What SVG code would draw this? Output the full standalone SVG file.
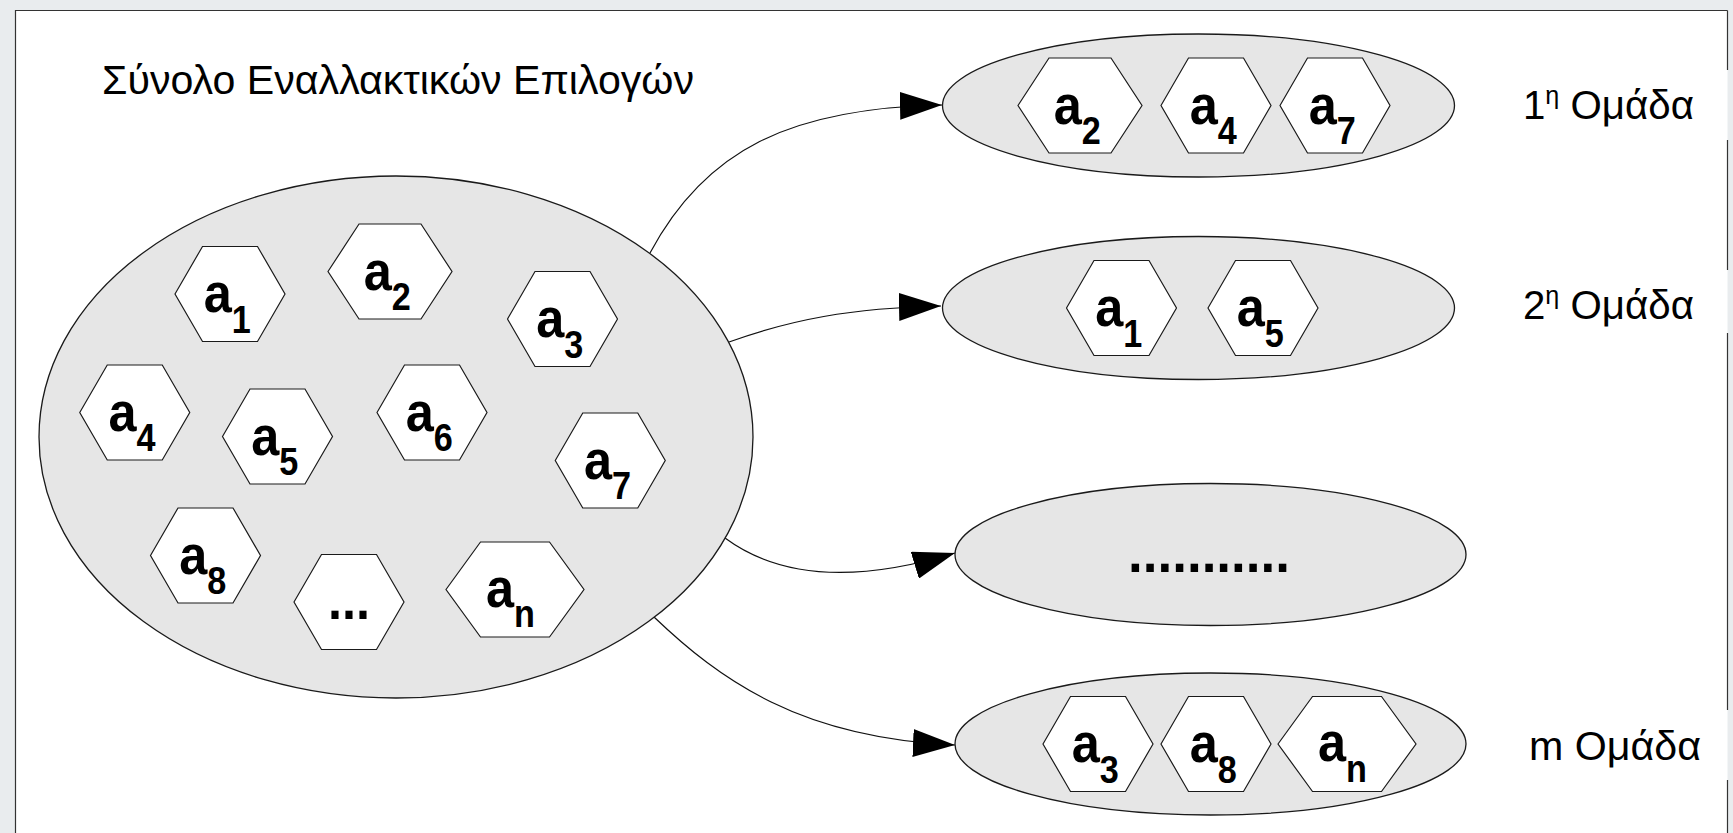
<svg xmlns="http://www.w3.org/2000/svg" xmlns:xlink="http://www.w3.org/1999/xlink" width="1733" height="833" viewBox="0 0 1733 833">
  <style>
    .set { fill: #e6e6e6; stroke: #1a1a1a; stroke-width: 1.3; }
    .hex { fill: #ffffff; stroke: #1a1a1a; stroke-width: 1.2; }
    .lbl { font-family: "Liberation Sans", Arial, sans-serif; font-weight: bold; font-size: 56px; fill: #000; text-anchor: middle; }
    .sub { font-size: 38px; }
    .cap { font-family: "Liberation Sans", Arial, sans-serif; font-size: 40px; fill: #000; }
    .sup { font-size: 25px; }
    .edge { fill: none; stroke: #111; stroke-width: 1.2; }
  </style>
  <defs>
    <!-- flat-topped hexagons: standard, wide and extra wide -->
    <polygon id="hx" points="-55,0 -27.5,-47.5 27.5,-47.5 55,0 27.5,47.5 -27.5,47.5"/>
    <polygon id="hxw" points="-62,0 -31,-47.5 31,-47.5 62,0 31,47.5 -31,47.5"/>
    <polygon id="hxn" points="-69,0 -34.5,-47.5 34.5,-47.5 69,0 34.5,47.5 -34.5,47.5"/>
    <marker id="arrow" viewBox="0 0 42 28" refX="42" refY="14" markerWidth="42" markerHeight="28" markerUnits="userSpaceOnUse" orient="auto">
      <path d="M0,0 L42,14 L0,28 Z" fill="#000"/>
    </marker>
  </defs>

  <!-- page background and frame -->
  <rect x="0" y="0" width="1733" height="833" fill="#e9ecee"/>
  <rect x="15.5" y="10.5" width="1712" height="830" fill="#ffffff"/>
  <g stroke="#333" stroke-width="1.2" fill="none">
    <path d="M15.5,833 V10.5 H1727.5"/>
    <path d="M1727.5,10.5 V70 M1727.5,140 V270 M1727.5,333 V710 M1727.5,780 V833"/>
  </g>

  <!-- connectors -->
  <g id="connectors">
    <path class="edge" d="M650,253 C705,150 790,108 942,105" marker-end="url(#arrow)"/>
    <path class="edge" d="M729,342 C790,320 850,308 941,306" marker-end="url(#arrow)"/>
    <path class="edge" d="M725,538 C775,575 850,585 955,553" marker-end="url(#arrow)"/>
    <path class="edge" d="M654,617 C720,680 800,738 955,745" marker-end="url(#arrow)"/>
  </g>

  <!-- title -->
  <g id="title">
    <text class="cap" x="102" y="94" font-size="39" textLength="592" lengthAdjust="spacingAndGlyphs">Σύνολο Εναλλακτικών Επιλογών</text>
  </g>

  <!-- full set of alternatives -->
  <g id="set-all">
    <ellipse class="set" cx="396" cy="437" rx="357" ry="261"/>
    <g id="all-a1" transform="translate(230,294)"><use href="#hx" class="hex"/><text class="lbl" transform="scale(0.9,1)" x="-3" y="18">a<tspan class="sub" dy="21">1</tspan></text></g>
    <g id="all-a2" transform="translate(390,271.5)"><use href="#hxw" class="hex"/><text class="lbl" transform="scale(0.9,1)" x="-3" y="18">a<tspan class="sub" dy="21">2</tspan></text></g>
    <g id="all-a3" transform="translate(562.5,319)"><use href="#hx" class="hex"/><text class="lbl" transform="scale(0.9,1)" x="-3" y="18">a<tspan class="sub" dy="21">3</tspan></text></g>
    <g id="all-a4" transform="translate(134.75,412.5)"><use href="#hx" class="hex"/><text class="lbl" transform="scale(0.9,1)" x="-3" y="18">a<tspan class="sub" dy="21">4</tspan></text></g>
    <g id="all-a5" transform="translate(277.5,436.5)"><use href="#hx" class="hex"/><text class="lbl" transform="scale(0.9,1)" x="-3" y="18">a<tspan class="sub" dy="21">5</tspan></text></g>
    <g id="all-a6" transform="translate(432,412.5)"><use href="#hx" class="hex"/><text class="lbl" transform="scale(0.9,1)" x="-3" y="18">a<tspan class="sub" dy="21">6</tspan></text></g>
    <g id="all-a7" transform="translate(610.25,460.5)"><use href="#hx" class="hex"/><text class="lbl" transform="scale(0.9,1)" x="-3" y="18">a<tspan class="sub" dy="21">7</tspan></text></g>
    <g id="all-a8" transform="translate(205.5,555.5)"><use href="#hx" class="hex"/><text class="lbl" transform="scale(0.9,1)" x="-3" y="18">a<tspan class="sub" dy="21">8</tspan></text></g>
    <g id="all-more" transform="translate(349,602)"><use href="#hx" class="hex"/><text class="lbl" transform="scale(0.9,1)" x="0" y="17">...</text></g>
    <g id="all-an" transform="translate(515,589.5)"><use href="#hxn" class="hex"/><text class="lbl" transform="scale(0.9,1)" x="-5" y="17">a<tspan class="sub" dy="21">n</tspan></text></g>
  </g>

  <!-- group 1 -->
  <g id="group-1">
    <ellipse class="set" cx="1198.5" cy="105.5" rx="256" ry="71.5"/>
    <g transform="translate(1080,105.5)"><use href="#hxw" class="hex"/><text class="lbl" transform="scale(0.9,1)" x="-3" y="18">a<tspan class="sub" dy="21">2</tspan></text></g>
    <g transform="translate(1216,105.5)"><use href="#hx" class="hex"/><text class="lbl" transform="scale(0.9,1)" x="-3" y="18">a<tspan class="sub" dy="21">4</tspan></text></g>
    <g transform="translate(1335,105.5)"><use href="#hx" class="hex"/><text class="lbl" transform="scale(0.9,1)" x="-3" y="18">a<tspan class="sub" dy="21">7</tspan></text></g>
    <text class="cap" x="1523" y="119" textLength="171" lengthAdjust="spacingAndGlyphs">1<tspan class="sup" dy="-15">η</tspan><tspan dy="15"> Ομάδα</tspan></text>
  </g>

  <!-- group 2 -->
  <g id="group-2">
    <ellipse class="set" cx="1198.5" cy="308" rx="256" ry="71.5"/>
    <g transform="translate(1121.5,308)"><use href="#hx" class="hex"/><text class="lbl" transform="scale(0.9,1)" x="-3" y="18">a<tspan class="sub" dy="21">1</tspan></text></g>
    <g transform="translate(1263,308)"><use href="#hx" class="hex"/><text class="lbl" transform="scale(0.9,1)" x="-3" y="18">a<tspan class="sub" dy="21">5</tspan></text></g>
    <text class="cap" x="1523" y="319" textLength="171" lengthAdjust="spacingAndGlyphs">2<tspan class="sup" dy="-15">η</tspan><tspan dy="15"> Ομάδα</tspan></text>
  </g>

  <!-- intermediate groups -->
  <g id="group-more">
    <ellipse class="set" cx="1210.5" cy="554.5" rx="255.5" ry="71"/>
    <text class="lbl" x="1209" y="572" font-size="54" textLength="162" lengthAdjust="spacingAndGlyphs">...........</text>
  </g>

  <!-- group m -->
  <g id="group-m">
    <ellipse class="set" cx="1210.5" cy="744" rx="255.5" ry="71"/>
    <g transform="translate(1098,744)"><use href="#hx" class="hex"/><text class="lbl" transform="scale(0.9,1)" x="-3" y="18">a<tspan class="sub" dy="21">3</tspan></text></g>
    <g transform="translate(1216,744)"><use href="#hx" class="hex"/><text class="lbl" transform="scale(0.9,1)" x="-3" y="18">a<tspan class="sub" dy="21">8</tspan></text></g>
    <g transform="translate(1347,744)"><use href="#hxn" class="hex"/><text class="lbl" transform="scale(0.9,1)" x="-5" y="17">a<tspan class="sub" dy="21">n</tspan></text></g>
    <text class="cap" x="1529" y="760" textLength="172" lengthAdjust="spacingAndGlyphs">m Ομάδα</text>
  </g>
</svg>
